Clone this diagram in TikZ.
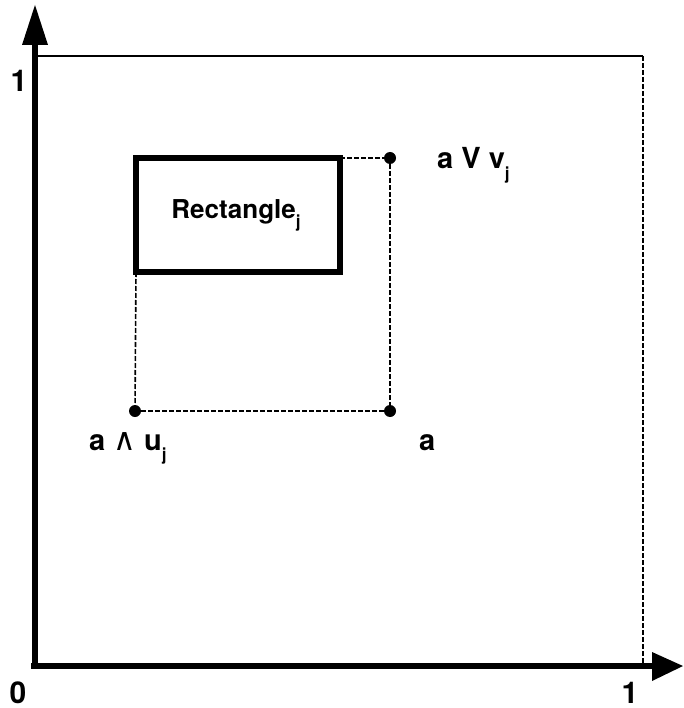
\documentclass[tikz,border=0pt]{standalone}
\usepackage{fontspec}
\setmainfont{TeX Gyre Heros}
\newfontfamily\symf{DejaVu Sans}
\usetikzlibrary{arrows.meta}
\tikzset{
  axis/.style={line width=6.5pt},
  frame/.style={line width=1.6pt},
  guide/.style={line width=1.6pt, dash pattern=on 5pt off 2pt},
  rectbox/.style={draw, line width=5.5pt, outer sep=0pt, minimum width=204pt, minimum height=114pt, inner sep=0pt, font=\bfseries\fontsize{26}{26}\selectfont},
  lbl/.style={font=\bfseries\fontsize{29}{29}\selectfont, inner sep=0pt},
  num/.style={font=\bfseries\fontsize{30}{30}\selectfont, inner sep=0pt},
  pt/.style={circle, fill=black, minimum size=12pt, inner sep=0pt},
  head/.style={fill=black}
}
\newcommand{\sj}[1]{\raisebox{-0.35em}{\fontsize{17}{17}\selectfont #1}}
\begin{document}
\begin{tikzpicture}[x=1pt,y=-1pt]
\useasboundingbox (0,0) rectangle (683,708);
% axes
\coordinate (O) at (35,666);
\coordinate (Ybase) at (35,44);
\coordinate (Ytip) at (35,5);
\coordinate (Xbase) at (653,666);
\coordinate (Xtip) at (683,666);
\coordinate (TL) at (35,56);
\coordinate (TR) at (643,56);
\coordinate (BR) at (643,666);
\draw[frame] (TL) -- (TR);
\draw[guide] (TR) -- (BR);
\draw[axis] (35,666) -- (Ybase);
\draw[axis] (31,666) -- (Xbase);
\fill[head] (22,45) -- (Ytip) -- (48,45) -- cycle;
\fill[head] (652,652) -- (Xtip) -- (652,681) -- cycle;
\node[num, anchor=base] (one1) at (19,92) {1};
\node[num, anchor=base] (zero) at (18,703) {0};
\node[num, anchor=base] (one2) at (630,703) {1};
% rectangle
\node[rectbox] (R) at (238,215) {\hspace*{-4pt}Rectangle\sj{j}};
% points
\node[pt] (P1) at (390,158) {};
\node[pt] (P2) at (135,411) {};
\node[pt] (P3) at (390,411) {};
\draw[guide] (R.north east) -- (P1);
\draw[guide] (P1) -- (P3);
\draw[guide] (P2) -- (P3);
\draw[guide] (R.south west) -- (P2);
\node[lbl, anchor=base west] (L1) at (437,169) {a V v\sj{j}};
\node[lbl, anchor=base west] (L2) at (89,450) {a {\symf\mdseries\fontsize{31}{31}\selectfont ∧} u\sj{j}};
\node[lbl, anchor=base west] (L3) at (419,450) {a};
\end{tikzpicture}
\end{document}
